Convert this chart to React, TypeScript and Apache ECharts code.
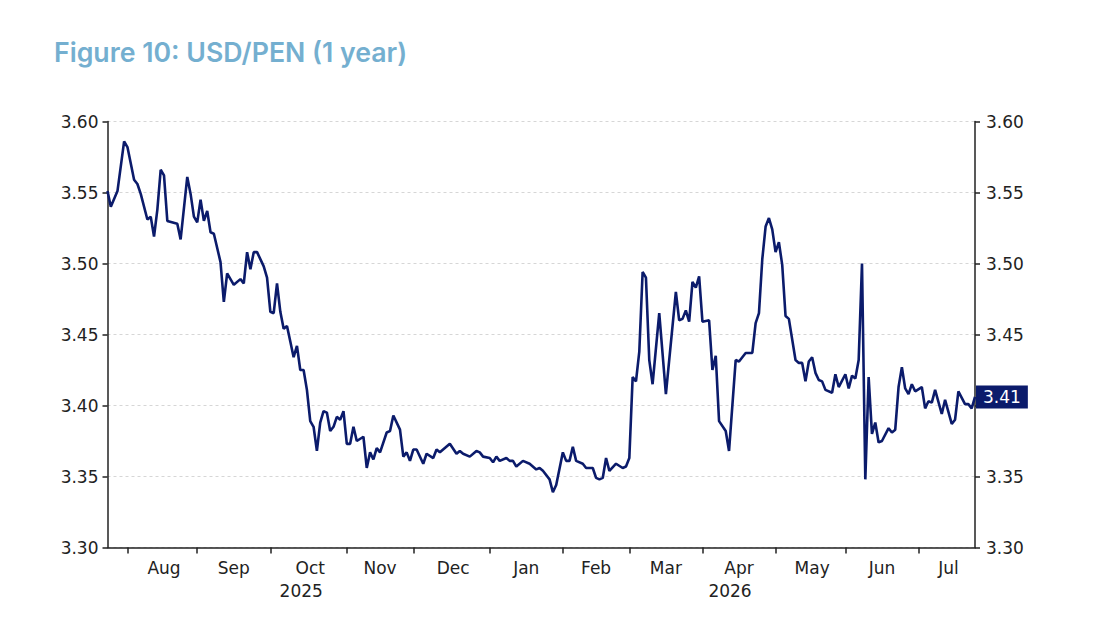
import React, { useEffect, useRef } from "react";
import * as echarts from "echarts";

// Business-day index (trading days since 2025-07-24) for each read vertex
const tradingDay = [
  0, 1, 3, 5, 6, 8, 9, 10, 12, 13, 14, 15, 16, 17, 18, 21, 22, 24, 25, 26, 27, 28, 29, 30, 31, 32, 34, 35, 36, 38, 40, 41,
  42, 43, 44, 45, 47, 48, 49, 50, 51, 52, 53, 54, 55, 56, 57, 58, 59, 60, 61, 62, 63, 64, 65, 66, 67, 68, 69, 70, 71, 72,
  73, 74, 75, 77, 78, 79, 80, 81, 82, 84, 85, 86, 88, 89, 90, 91, 92, 93, 95, 96, 98, 99, 100, 103, 105, 106, 107, 109, 111,
  112, 113, 115, 116, 117, 118, 120, 121, 122, 123, 125, 127, 129, 130, 131, 133, 134, 135, 137, 138, 139, 140, 141, 143,
  144, 146, 147, 148, 149, 150, 151, 153, 155, 156, 157, 158, 159, 160, 161, 162, 163, 164, 166, 168, 171, 172, 173, 174,
  175, 176, 177, 178, 179, 181, 182, 183, 184, 186, 187, 189, 190, 191, 192, 194, 195, 196, 197, 198, 199, 200, 201, 202,
  203, 204, 205, 207, 208, 209, 210, 211, 212, 213, 214, 215, 216, 218, 219, 220, 222, 223, 224, 225, 226, 227, 228, 229,
  230, 231, 232, 233, 235, 236, 237, 238, 239, 240, 241, 242, 243, 245, 246, 247, 248, 249, 251, 252, 254, 255, 256, 258,
  259, 260, 261,
];

// USD/PEN closing values at those days
const usdPen = [
  3.551, 3.54, 3.551, 3.586, 3.582, 3.559, 3.556, 3.549, 3.531, 3.533, 3.519, 3.538, 3.566, 3.562, 3.53, 3.528, 3.517,
  3.561, 3.549, 3.533, 3.529, 3.545, 3.53, 3.537, 3.522, 3.521, 3.501, 3.473, 3.493, 3.485, 3.489, 3.486,
  3.508, 3.496, 3.508, 3.508, 3.498, 3.49, 3.466, 3.465, 3.486, 3.466, 3.454, 3.456, 3.445, 3.434, 3.442, 3.425, 3.425,
  3.411, 3.389, 3.385, 3.368, 3.388, 3.396, 3.395, 3.382, 3.385, 3.392, 3.39, 3.396, 3.373,
  3.373, 3.385, 3.375, 3.378, 3.356, 3.367, 3.362, 3.37, 3.367, 3.381, 3.382, 3.393, 3.383, 3.364, 3.367, 3.361, 3.369,
  3.369, 3.359, 3.366, 3.363, 3.369, 3.367, 3.373, 3.366, 3.368, 3.366, 3.364, 3.368,
  3.367, 3.364, 3.363, 3.36, 3.364, 3.361, 3.363, 3.361, 3.361, 3.357, 3.361, 3.359, 3.355, 3.356, 3.354, 3.348, 3.339,
  3.344, 3.367, 3.361, 3.361, 3.371, 3.361, 3.359,
  3.356, 3.356, 3.349, 3.348, 3.349, 3.363, 3.354, 3.359, 3.356, 3.357, 3.363, 3.42, 3.417, 3.438, 3.494, 3.49, 3.432,
  3.415, 3.465, 3.408, 3.48, 3.46, 3.461, 3.467,
  3.459, 3.487, 3.483, 3.491, 3.459, 3.46, 3.425, 3.435, 3.389, 3.382, 3.368, 3.432, 3.431, 3.434, 3.437, 3.437, 3.458,
  3.465, 3.503, 3.526, 3.532, 3.524, 3.508, 3.515,
  3.499, 3.463, 3.461, 3.432, 3.43, 3.43, 3.417, 3.431, 3.434, 3.423, 3.418, 3.417, 3.411, 3.409, 3.422, 3.413, 3.422,
  3.412, 3.421, 3.419, 3.432, 3.5, 3.348, 3.42,
  3.38, 3.388, 3.374, 3.375, 3.384, 3.381, 3.383, 3.413, 3.427, 3.412, 3.408, 3.415, 3.41, 3.413, 3.398, 3.403, 3.402,
  3.411, 3.394, 3.404, 3.387, 3.39, 3.41, 3.401,
  3.401, 3.398, 3.406,
];

const startDate = [2025, 6, 24]; // 24 Jul 2025
const dayCount = 262;
const monthNames = ["Jan", "Feb", "Mar", "Apr", "May", "Jun", "Jul", "Aug", "Sep", "Oct", "Nov", "Dec"];
const yearLabels: Record<string, string> = { "2025-10": "2025", "2026-04": "2026" };
const yTicks = { min: 3.3, max: 3.6, interval: 0.05 };
// right-axis tick label hidden behind the last-value box
const rightHiddenLabel = "3.40";

const NAVY = "#0b1b6b";
const AXIS = "#222222";
const FONT = "DejaVu Sans";

function buildDates(): string[] {
  const out: string[] = [];
  const d = new Date(Date.UTC(startDate[0], startDate[1], startDate[2]));
  while (out.length < dayCount) {
    const wd = d.getUTCDay();
    if (wd !== 0 && wd !== 6) out.push(d.toISOString().slice(0, 10));
    d.setUTCDate(d.getUTCDate() + 1);
  }
  return out;
}

export default function App() {
  const ref = useRef<HTMLDivElement>(null);

  useEffect(() => {
    if (!ref.current) return;
    const chart = echarts.init(ref.current, undefined, { renderer: "svg" });
    const dates = buildDates();

    const monthStarts: number[] = [];
    for (let i = 1; i < dates.length; i++) {
      if (dates[i].slice(0, 7) !== dates[i - 1].slice(0, 7)) monthStarts.push(i);
    }
    const tickSet = new Set(monthStarts);
    const labelSet = new Set<number>();
    monthStarts.forEach((s, k) => {
      const e = k + 1 < monthStarts.length ? monthStarts[k + 1] : dates.length - 1;
      labelSet.add(Math.round((s + e) / 2));
    });

    const data = tradingDay.map((d, i) => [dates[d], usdPen[i]]);

    const yAxisCommon = {
      type: "value" as const,
      min: yTicks.min,
      max: yTicks.max,
      interval: yTicks.interval,
      axisLine: { show: true, lineStyle: { color: AXIS, width: 1.5 } },
      axisTick: { show: true, length: 5, lineStyle: { color: AXIS, width: 1.5 } },
      axisLabel: {
        color: AXIS,
        fontFamily: FONT,
        fontSize: 17,
        margin: 9,
        formatter: (v: number) => v.toFixed(2),
      },
    };

    chart.setOption({
      animation: false,
      backgroundColor: "#ffffff",
      title: {
        text: "Figure 10: USD/PEN (1 year)",
        left: 49,
        top: 33,
        textStyle: {
          fontFamily: "Inter",
          fontWeight: 600,
          fontSize: 26.7,
          color: "#74afd0",
        },
      },
      grid: { left: 107.5, right: 139, top: 121.5, bottom: 77.5, containLabel: false },
      xAxis: {
        type: "category",
        data: dates,
        boundaryGap: false,
        axisLine: { show: true, lineStyle: { color: AXIS, width: 1.5 } },
        axisTick: {
          show: true,
          length: 6,
          interval: (i: number) => tickSet.has(i),
          lineStyle: { color: AXIS, width: 1.5 },
        },
        axisLabel: {
          interval: (i: number) => labelSet.has(i),
          color: AXIS,
          fontFamily: FONT,
          fontSize: 17,
          margin: 9,
          lineHeight: 23,
          formatter: (v: string) => {
            const m = monthNames[parseInt(v.slice(5, 7), 10) - 1];
            const yr = yearLabels[v.slice(0, 7)];
            return yr ? `${m}\n{yr|${yr}}` : m;
          },
          rich: {
            yr: { fontFamily: FONT, fontSize: 17, color: AXIS, lineHeight: 23, padding: [0, 18, 0, 0] },
          },
        },
        splitLine: { show: false },
      },
      yAxis: [
        {
          ...yAxisCommon,
          position: "left",
          splitLine: { show: true, lineStyle: { color: "#d6d6d6", type: [3, 3], width: 1 } },
        },
        {
          ...yAxisCommon,
          position: "right",
          axisLabel: {
            ...yAxisCommon.axisLabel,
            margin: 11,
            formatter: (v: number) => (v.toFixed(2) === rightHiddenLabel ? "" : v.toFixed(2)),
          },
          splitLine: { show: false },
        },
      ],
      series: [
        {
          type: "line",
          data,
          yAxisIndex: 0,
          showSymbol: false,
          symbol: "none",
          lineStyle: { color: NAVY, width: 2.6 },
          endLabel: {
            show: true,
            distance: 1,
            formatter: (p: any) => {
              const v = Array.isArray(p.value) ? p.value[1] : p.value;
              return Number(v).toFixed(2);
            },
            backgroundColor: NAVY,
            color: "#ffffff",
            fontFamily: FONT,
            fontSize: 17,
            padding: [3, 7, 3, 7],
          },
        },
      ],
    });

    return () => chart.dispose();
  }, []);

  return (
    <div
      ref={ref}
      style={{ position: "fixed", left: 0, top: 0, width: 1114, height: 625, background: "#fff" }}
    />
  );
}
